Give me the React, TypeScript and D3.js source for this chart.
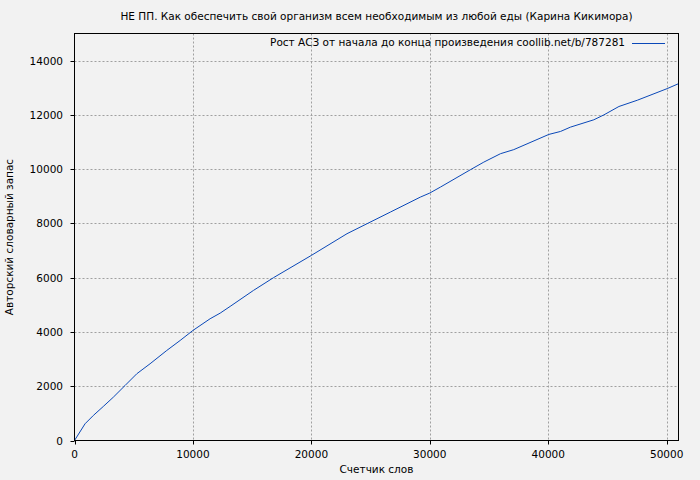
import React from "react";
import * as d3 from "d3";

const TITLE = "НЕ ПП. Как обеспечить свой организм всем необходимым из любой еды (Карина Кикимора)";
const LEGEND = "Рост АСЗ от начала до конца произведения coollib.net/b/787281";
const X_LABEL = "Счетчик слов";
const Y_LABEL = "Авторский словарный запас";

const words = [0, 890, 1590, 2430, 3280, 4270, 5260, 6380, 7790, 8920, 10000, 11450, 12300, 13140, 15110, 16800, 20000, 23010, 24700, 26670, 29200, 30000, 30900, 33430, 34560, 35970, 37090, 40050, 41040, 41880, 43850, 44700, 45970, 47520, 48930, 50050, 51000];
const vocab = [0, 616, 922, 1254, 1597, 2028, 2460, 2828, 3318, 3687, 4056, 4487, 4694, 4941, 5531, 6000, 6822, 7622, 7990, 8418, 8970, 9120, 9340, 9980, 10260, 10570, 10720, 11280, 11390, 11550, 11820, 12000, 12310, 12540, 12780, 12970, 13150];

const xTicks = [0, 10000, 20000, 30000, 40000, 50000];
const yTicks = [0, 2000, 4000, 6000, 8000, 10000, 12000, 14000];

export default function App() {
  const W = 700, H = 480;
  const left = 74.5, right = 678.5, top = 33.5, bottom = 440.5;
  const x = d3.scaleLinear().domain([0, 51000]).range([left, right]);
  const y = d3.scaleLinear().domain([0, 15000]).range([bottom, top]);
  const pts = words.map((w, i) => [w, vocab[i]] as [number, number]);
  const line = d3.line<[number, number]>().x(d => x(d[0])).y(d => y(d[1]))(pts) || "";
  const font = "'DejaVu Sans', Verdana, sans-serif";
  const fs = 10.5;
  const snap = (v: number) => Math.round(v) + 0.5;
  const cx = (left + right) / 2;
  return (
    <svg width={W} height={H} style={{ position: "absolute", left: 0, top: 0, display: "block" }} fontFamily={font}>
      <rect x={0} y={0} width={W} height={H} fill="#f2f2f2" />
      <text x={cx} y={20} textAnchor="middle" fontSize={fs} fill="#000">{TITLE}</text>
      {xTicks.filter(t => t > 0).map(t => (
        <line key={"gx" + t} x1={snap(x(t))} x2={snap(x(t))} y1={top} y2={bottom} stroke="#a0a0a0" strokeDasharray="2,2" />
      ))}
      {yTicks.filter(t => t > 0).map(t => (
        <line key={"gy" + t} x1={left} x2={right} y1={snap(y(t))} y2={snap(y(t))} stroke="#a0a0a0" strokeDasharray="2,2" />
      ))}
      <path d={line} fill="none" stroke="#0a48b8" strokeWidth={1} />
      <rect x={left} y={top} width={right - left} height={bottom - top} fill="none" stroke="#000" strokeWidth={1} />
      {xTicks.map(t => (
        <g key={"xt" + t}>
          <line x1={snap(x(t))} x2={snap(x(t))} y1={bottom} y2={bottom + 4} stroke="#000" />
          <text x={x(t)} y={458} textAnchor="middle" fontSize={fs} fill="#000">{t}</text>
        </g>
      ))}
      {yTicks.map(t => (
        <g key={"yt" + t}>
          <line x1={left - 4} x2={left} y1={snap(y(t))} y2={snap(y(t))} stroke="#000" />
          <text x={63} y={y(t) + 4} textAnchor="end" fontSize={fs} fill="#000">{t}</text>
        </g>
      ))}
      <text x={cx} y={473} textAnchor="middle" fontSize={fs} fill="#000">{X_LABEL}</text>
      <text transform={`translate(13,${(top + bottom) / 2}) rotate(-90)`} textAnchor="middle" fontSize={fs} fill="#000">{Y_LABEL}</text>
      <text x={625} y={46} textAnchor="end" fontSize={fs} fill="#000">{LEGEND}</text>
      <line x1={632} x2={665} y1={43.5} y2={43.5} stroke="#0a48b8" />
    </svg>
  );
}
